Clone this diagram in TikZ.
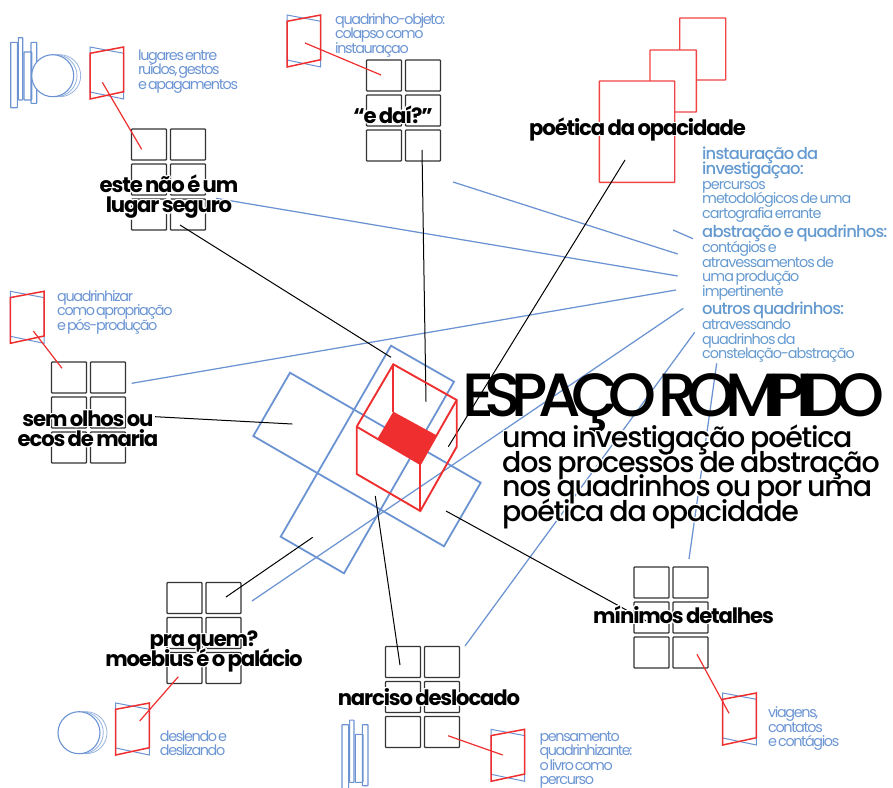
\documentclass[tikz,border=0pt]{standalone}
\usepackage{fontspec}
\usepackage[copies]{contour}
\usetikzlibrary{arrows}
\setmainfont{Poppins}
\newfontfamily\capfont[LetterSpace=-9.5, WordSpace=0.4]{Poppins}
\newfontfamily\bodyfont[LetterSpace=-7, WordSpace=0.55]{Poppins}
\newfontfamily\strongfont[LetterSpace=-5, WordSpace=0.7]{Poppins Medium}
\newfontfamily\headfont[LetterSpace=-5.5, WordSpace=0.7]{Poppins}
\newfontfamily\bannerfont[LetterSpace=-15.8, WordSpace=0.3]{Poppins Medium}
\newfontfamily\subfont[LetterSpace=-4.3, WordSpace=0.8]{Poppins Medium}
\newcommand{\sidehead}{\strongfont\fontsize{16.4}{14.7}\selectfont}
\contournumber{16}
\contourlength{1.2pt}
\setlength{\lineskiplimit}{-100pt}
\definecolor{riskblue}{HTML}{6B93D2}
\definecolor{capblue}{HTML}{6C95D3}
\definecolor{sideblue}{HTML}{659AD0}
\definecolor{riskred}{HTML}{EF2F2F}
\tikzset{>=latex}
% six panels, top left one named #1a
\newcommand{\quadgrid}[3]{
  \node[quad] (#1a) at (#2,#3) {};
  \node[quad] (#1b) [right of = #1a, node distance=39pt] {};
  \node[quad] (#1c) [below of = #1a] {};
  \node[quad] (#1d) [right of = #1c, node distance=39pt] {};
  \node[quad] (#1e) [below of = #1c] {};
  \node[quad] (#1f) [right of = #1e, node distance=39pt] {};
}
\newcommand{\foldpage}[2]{
  \draw[foldblue] (#1,#2) -- ++(33.7,6.3) -- ++(0,45.7) -- ++(-33.7,-7) -- cycle;
  \draw[foldred] (#1,#2+6.3) -- ++(33.7,-6.3) -- ++(0,44.7) -- ++(-33.7,7.3) -- cycle;
}
\newcommand{\discs}[2]{
  \draw[thinblue, fill=white] (#1+7,#2) circle (21);
  \draw[thinblue, fill=white] (#1+3.3,#2) circle (21);
  \draw[iconblue, fill=white] (#1,#2) circle (21);
}
\newcommand{\spines}[2]{
  \draw[iconblue] (#1,#2) rectangle ++(6.6,65.4);
  \draw[iconblue] (#1+7.6,#2-4.6) rectangle ++(4.4,62.3);
  \draw[iconblue] (#1+13.3,#2+9.7) rectangle ++(7.7,48);
  \draw[iconblue] (#1+20.3,#2) rectangle ++(5.7,61);
}
\newcommand{\halo}[1]{\contour{white}{#1}}
\begin{document}
\begin{tikzpicture}[x=1pt, y=-1pt]
  \tikzstyle{quad}=[draw=black!80, line width=1.2pt, rounded corners=0.8pt, inner sep=0pt, minimum width=35pt, minimum height=31pt, node distance=35pt]
  \tikzstyle{foldblue}=[draw=riskblue, line width=1pt]
  \tikzstyle{foldred}=[draw=riskred, line width=1.5pt]
  \tikzstyle{iconblue}=[draw=riskblue, line width=1.1pt, rounded corners=0.5pt]
  \tikzstyle{thinblue}=[draw=riskblue!70, line width=0.8pt]
  \tikzstyle{blueline}=[draw=riskblue, line width=1.25pt]
  \tikzstyle{redline}=[draw=riskred, line width=1.2pt]
  \tikzstyle{blackline}=[draw=black, line width=1pt]
  \tikzstyle{tinted}=[draw=riskblue, line width=1.8pt, line join=miter]
  \tikzstyle{cube}=[draw=riskred, line width=1.9pt, line join=miter]
  \tikzstyle{sheet}=[draw=riskred!90, line width=1.4pt, fill=white, rounded corners=0.5pt]
  \tikzstyle{caption}=[text=capblue, anchor=north west, align=left, inner sep=0pt, font=\capfont\fontsize{14.4}{14.6}\selectfont]
  \tikzstyle{side}=[text=sideblue, anchor=north west, align=left, inner sep=0pt, font=\bodyfont\fontsize{14.4}{14.7}\selectfont]
  \tikzstyle{worktitle}=[text=black, align=center, inner sep=0pt, font=\headfont\bfseries\fontsize{21.2}{20}\selectfont]
  \useasboundingbox (0,0) rectangle (893,787);
  \clip (0,0) rectangle (893,787);

  \draw[tinted] (391,345.7) -- (454,381.7) -- (344,573.3) -- (280.7,536.7) -- cycle;
  \draw[tinted] (290,372.7) -- (480.7,482.7) -- (444,546.3) -- (253.3,436) -- cycle;

  \coordinate (s1) at (453,182);
  \coordinate (s2) at (216,198.3);
  \coordinate (s3) at (131.7,383.3);
  \coordinate (s4) at (252,601);
  \coordinate (s5) at (465,646);
  \coordinate (s6) at (689,559);
  \coordinate (s7) at (673,230);
  \coordinate (t1) at (677.7,254);
  \coordinate (t2) at (677.7,276);
  \coordinate (t3) at (676,290);
  \coordinate (t4) at (683.3,308.3);
  \coordinate (t5) at (694.7,332.3);
  \coordinate (t6) at (716.7,363.3);
  \coordinate (t7) at (693,238.7);
  \draw[blueline] (s1) -- (t1);
  \draw[blueline] (s2) -- (t2);
  \draw[blueline] (s3) -- (t3);
  \draw[blueline] (s4) -- (t4);
  \draw[blueline] (s5) -- (t5);
  \draw[blueline] (s6) -- (t6);
  \draw[blueline] (s7) -- (t7);

  \node[sheet, minimum width=46pt, minimum height=62pt, anchor=north west] (P) at (679,17.3) {};
  \node[sheet, minimum width=46.4pt, minimum height=62pt, anchor=north west] (Q) at (649.3,49.3) {};
  \node[sheet, minimum width=75.3pt, minimum height=101.4pt, anchor=north west] (R) at (598.7,80.3) {};

  \quadgrid{G}{149}{144.5}
  \quadgrid{H}{384}{75.5}
  \quadgrid{I}{69}{377.5}
  \quadgrid{J}{184.5}{598}
  \quadgrid{K}{403}{662}
  \quadgrid{L}{651.5}{582.5}

  \foldpage{90}{47}
  \foldpage{287}{15}
  \foldpage{10.3}{291.3}
  \foldpage{115.7}{703}
  \foldpage{491}{729.3}
  \foldpage{722.7}{693}

  \coordinate (f1) at (102.3,82.3);
  \coordinate (g1) at (141.7,149.3);
  \coordinate (f2) at (305,43);
  \coordinate (g2) at (381,75);
  \coordinate (f3) at (33.3,331);
  \coordinate (g3) at (62,368.3);
  \coordinate (f4) at (139.7,721);
  \coordinate (g4) at (178.3,676.7);
  \coordinate (f5) at (502.7,755);
  \coordinate (g5) at (448,735.7);
  \coordinate (f6) at (729,713.3);
  \coordinate (g6) at (697,654.3);
  \draw[redline] (f1) -- (g1);
  \draw[redline] (f2) -- (g2);
  \draw[redline] (f3) -- (g3);
  \draw[redline] (f4) -- (g4);
  \draw[redline] (f5) -- (g5);
  \draw[redline] (f6) -- (g6);

  \coordinate (a1) at (180,225);
  \coordinate (b1) at (391,357.3);
  \coordinate (a2) at (422,150);
  \coordinate (b2) at (426,401.7);
  \coordinate (a3) at (625,160);
  \coordinate (b3) at (448.3,446.7);
  \coordinate (a4) at (155,416.7);
  \coordinate (b4) at (292.3,424);
  \coordinate (a5) at (226,597);
  \coordinate (b5) at (312.7,537.3);
  \coordinate (a6) at (400,665);
  \coordinate (b6) at (375.3,496);
  \coordinate (a7) at (650,623);
  \coordinate (b7) at (446,511);
  \draw[blackline] (a1) -- (b1);
  \draw[blackline] (a2) -- (b2);
  \draw[blackline] (a3) -- (b3);
  \draw[blackline] (a4) -- (b4);
  \draw[blackline] (a5) -- (b5);
  \draw[blackline] (a6) -- (b6);
  \draw[blackline] (a7) -- (b7);

  \fill[riskred] (393.3,411.7) -- (436,435) -- (420.3,464) -- (377.7,438.3) -- cycle;
  \draw[cube] (393.3,364.3) -- (456.7,400) -- (456.7,446.7) -- (420.3,511) -- (356.7,474) -- (356.7,426.7) -- cycle;
  \draw[cube] (393.3,364.3) -- (393.3,411.7);
  \draw[cube] (356.7,426.7) -- (420.3,464) -- (456.7,400);
  \draw[cube] (420.3,464) -- (420.3,511);

  \spines{10.7}{42.3}
  \discs{52.7}{75.7}
  \discs{79}{732.7}
  \spines{342}{724.7}

  \node[caption] (c1) at (138,49.5) {lugares entre\\ruídos, gestos\\e apagamentos};
  \node[caption] (c2) at (335,13) {quadrinho-objeto:\\colapso como\\instauraçao};
  \node[caption] (c3) at (57,290) {quadrinhizar\\como apropriação\\e pós-produção};
  \node[caption] (c4) at (159.7,730.5) {deslendo e\\deslizando};
  \node[caption] (c5) at (539.3,731) {pensamento\\quadrinhizante:\\o livro como\\percurso};
  \node[caption] (c6) at (768,706.5) {viagens,\\contatos\\e contágios};

  \node[side] (d1) at (702,147) {\sidehead instauração da\\\sidehead investigaçao:\\percursos\\metodológicos de uma\\cartografia errante};
  \node[side] (d2) at (702,225) {\sidehead abstração e quadrinhos:\\contágios e\\atravessamentos de\\uma produção\\impertinente};
  \node[side] (d3) at (702,302) {\sidehead outros quadrinhos:\\atravessando\\quadrinhos da\\constelação-abstração};

  \node[worktitle] (w1) at (169,197.5) {\halo{este não é um}\\\halo{lugar seguro}};
  \node[worktitle] (w2) at (393,115) {\halo{“e daí?”}};
  \node[worktitle] (w3) at (637.5,130) {\halo{poética da opacidade}};
  \node[worktitle] (w4) at (88,429.5) {\halo{sem olhos ou}\\\halo{ecos de maria}};
  \node[worktitle] (w5) at (204,652) {\halo{pra quem?}\\\halo{moebius é o palácio}};
  \node[worktitle] (w6) at (429,697.5) {\halo{narciso deslocado}};
  \node[worktitle] (w7) at (683.5,615.5) {\halo{mínimos detalhes}};

  \node[anchor=base west, inner sep=0pt, font=\bannerfont\fontsize{61}{61}\selectfont] (T) at (462,416) {ESPAÇO ROMPIDO};
  \node[anchor=north west, align=left, inner sep=0pt, font=\subfont\fontsize{28.5}{24.7}\selectfont] (U) at (502,424.5) {\halo{uma investigação poética}\\\halo{dos processos de abstração}\\\halo{nos quadrinhos ou por uma}\\\halo{poética da opacidade}};
\end{tikzpicture}
\end{document}
